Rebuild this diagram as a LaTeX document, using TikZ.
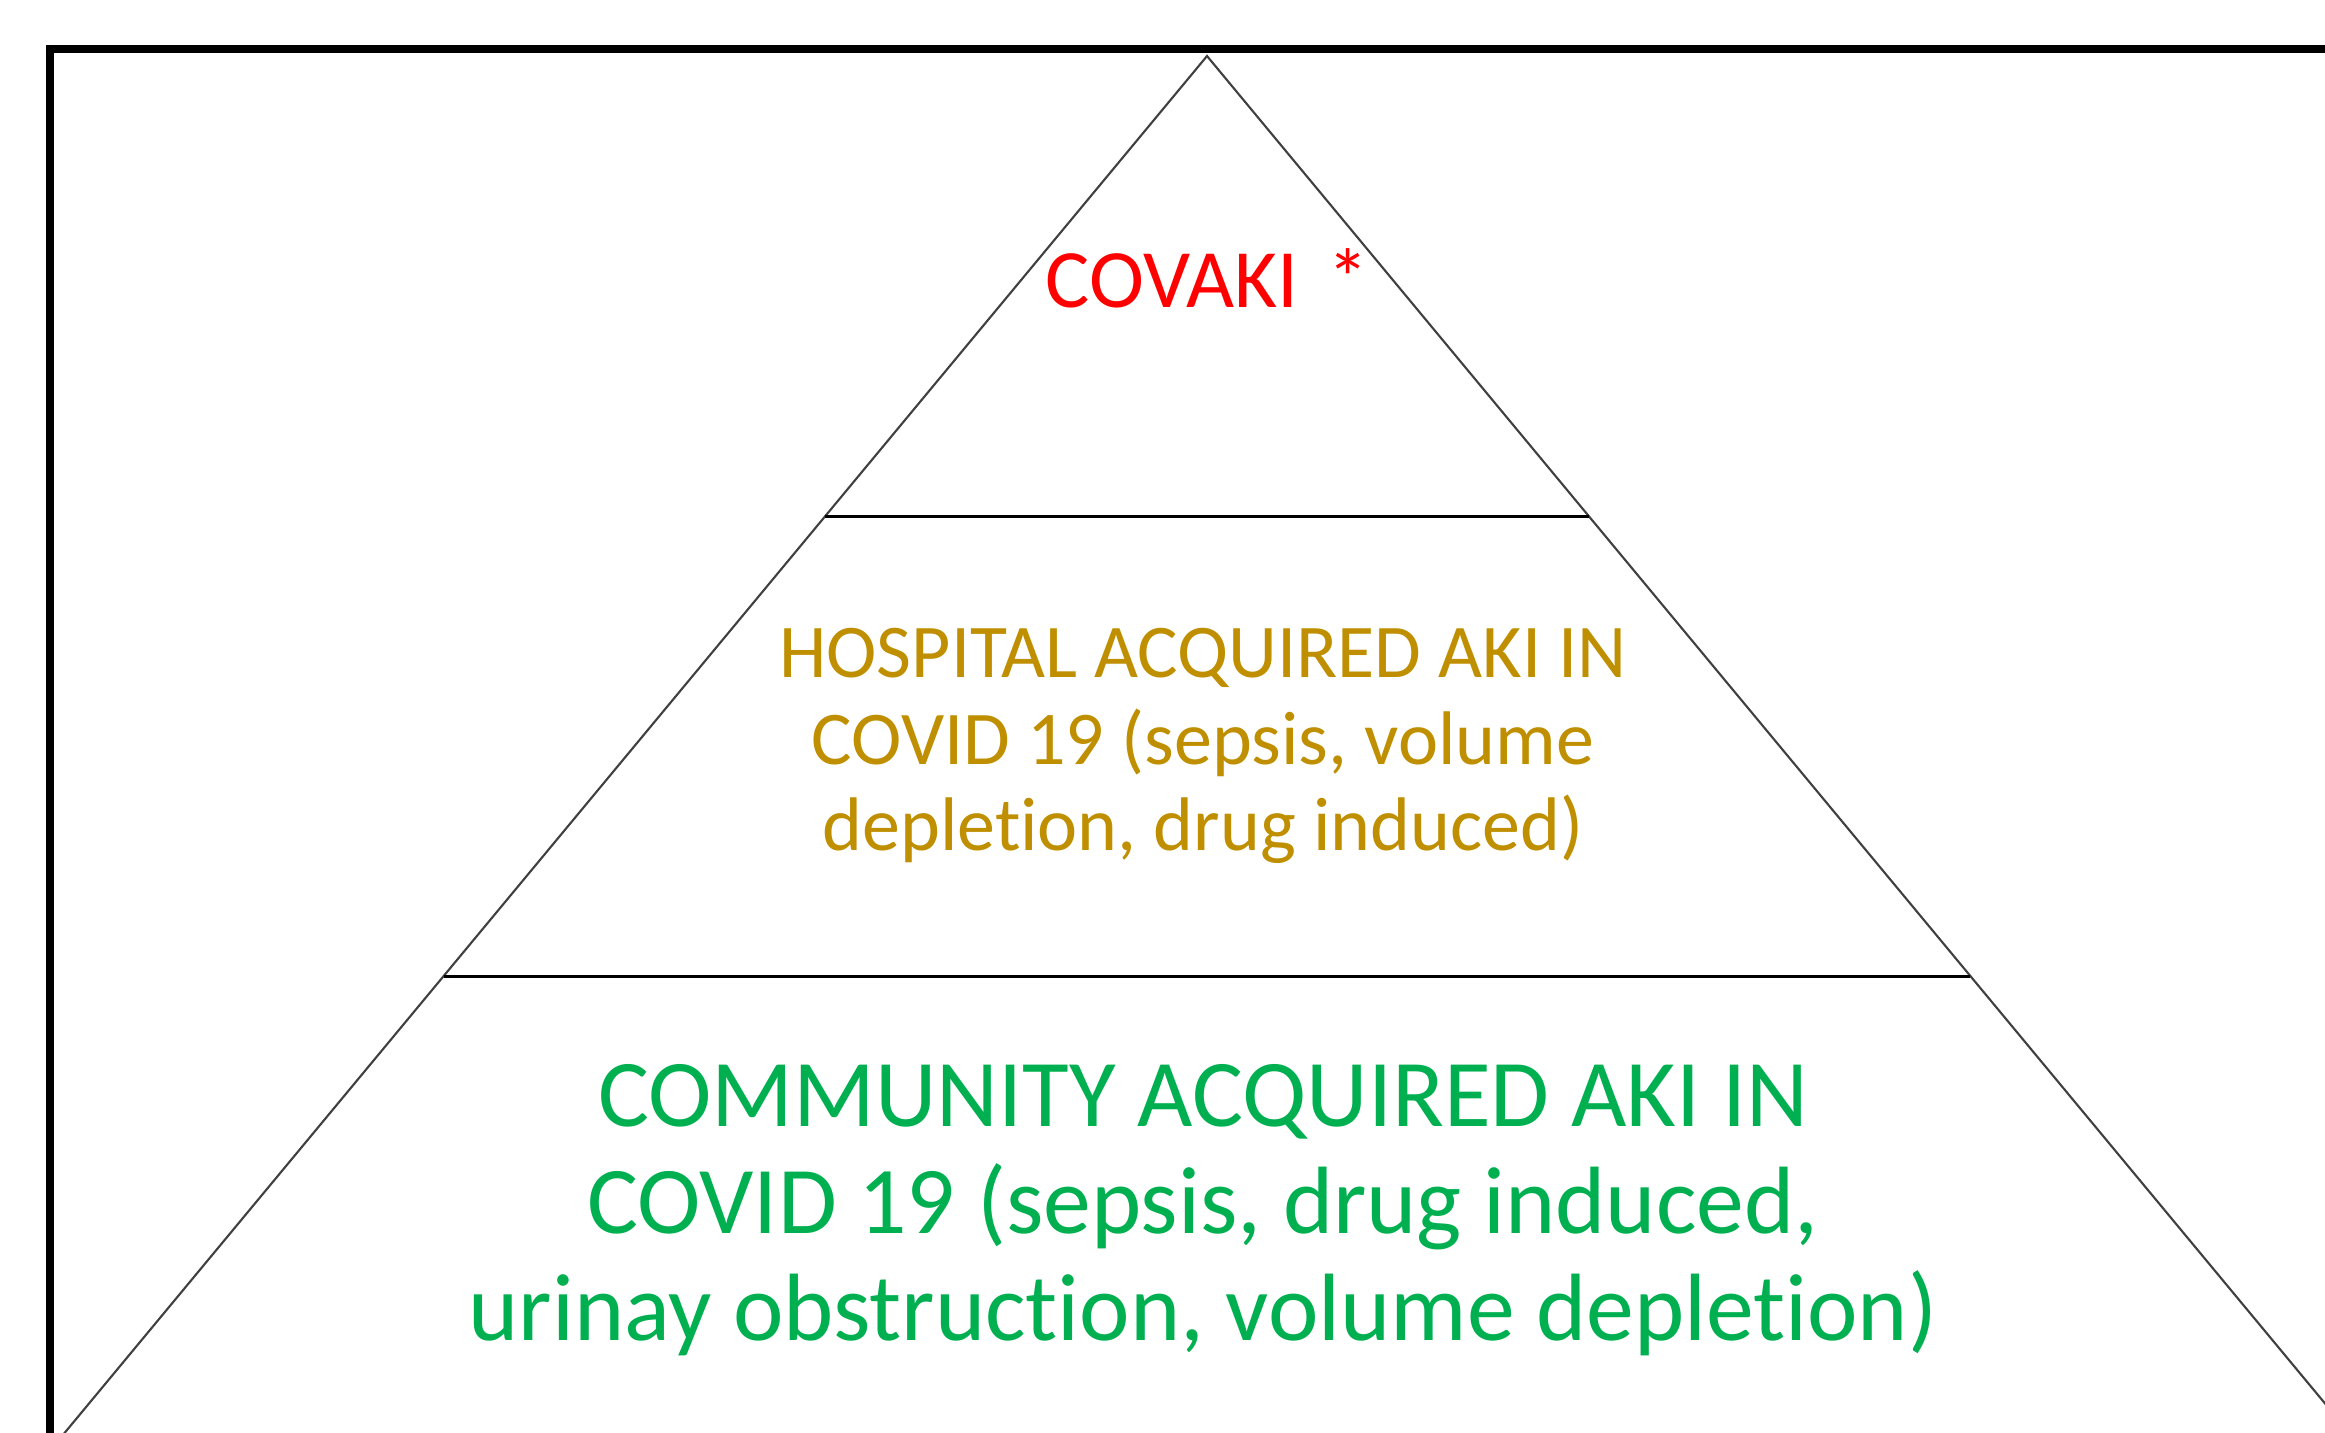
\documentclass[tikz,border=0pt]{standalone}
\usepackage{fontspec}
\setmainfont{Carlito}[Ligatures={NoCommon,NoRare}]
\usetikzlibrary{calc}
\definecolor{covred}   {HTML}{FF0000}
\definecolor{hospgold} {HTML}{BF8F00}
\definecolor{commgreen}{HTML}{00B050}
\definecolor{legink}   {HTML}{404040}
\tikzset{
  % --- lines
  frame/.style  = {draw=black, line width=2.3pt},
  leg/.style    = {draw=legink, line width=0.6pt},
  tier/.style   = {draw=black, line width=0.85pt},
  % --- texts
  lbl/.style    = {align=center, inner sep=0pt},
  toptxt/.style = {lbl, text=covred, font=\fontsize{23.6}{27}\selectfont},
  midtxt/.style = {lbl, text=hospgold, font=\fontsize{21.6}{24.5}\selectfont},
  bottxt/.style = {lbl, text=commgreen, font=\fontsize{27.2}{30.4}\selectfont},
}
\begin{document}
\begin{tikzpicture}[x=0.01cm, y=-0.01cm]
  \useasboundingbox (0,0) rectangle (2325,1432);
  \clip (0,0) rectangle (2325,1432);

  % outer frame, cut off at the right and bottom
  \draw[frame] (50,49) rectangle (2450,1550);

  % pyramid
  \coordinate (apex)  at (1207,56);
  \coordinate (baseL) at (62,1436);
  \coordinate (baseR) at (2352,1436);
  \coordinate (t1L) at ($(apex)!1/3!(baseL)$);
  \coordinate (t1R) at ($(apex)!1/3!(baseR)$);
  \coordinate (t2L) at ($(apex)!2/3!(baseL)$);
  \coordinate (t2R) at ($(apex)!2/3!(baseR)$);
  \draw[leg]  (baseL) -- (apex) -- (baseR);
  \draw[tier] (t1L) -- (t1R);
  \draw[tier] (t2L) -- (t2R);

  % tier labels
  \node[toptxt, anchor=base] (covaki) at (1207,307) {COVAKI~\hspace{0.12em}*};
  \node[midtxt] (hosp) at (1203,746)
    {HOSPITAL ACQUIRED AKI IN\\COVID 19 (sepsis, volume\\depletion, drug induced)};
  \node[bottxt] (comm) at (1203,1210)
    {COMMUNITY ACQUIRED AKI IN\\COVID 19 (sepsis, drug induced,\\urinay obstruction, volume depletion)};
\end{tikzpicture}
\end{document}
